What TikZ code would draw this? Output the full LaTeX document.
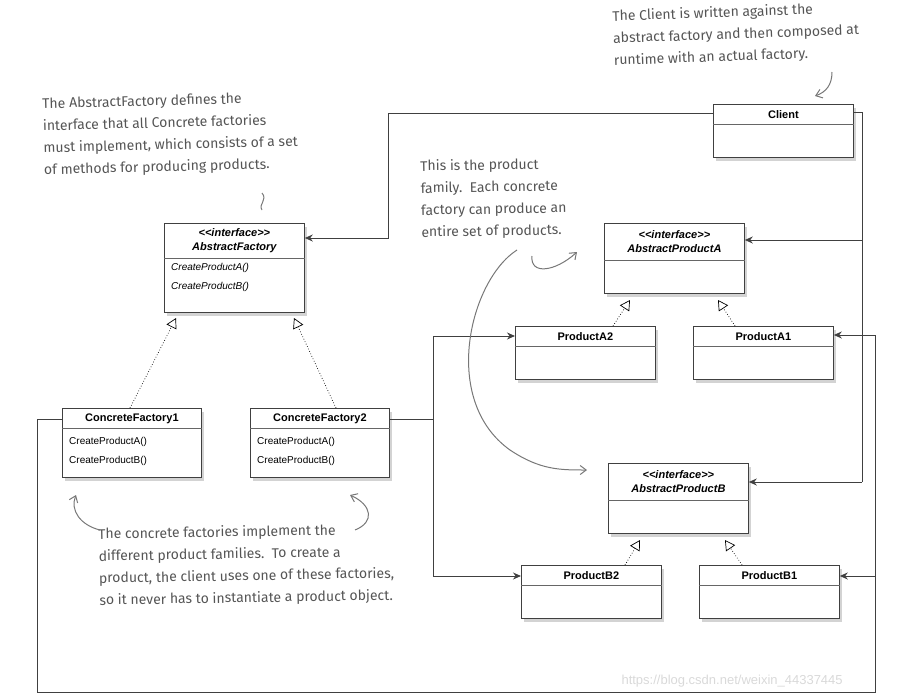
\documentclass[tikz,border=0pt]{standalone}
\usepackage{fontspec}
\setmainfont{Liberation Sans}
\newfontfamily\hand{Fira Sans}
\usetikzlibrary{shadows,arrows.meta}
\definecolor{hc}{RGB}{85,85,85}
\newcommand{\ifc}{<\kern0pt<interface>\kern0pt>}
\begin{document}
\begin{tikzpicture}[x=1pt,y=-1pt,
  cls/.style={draw=black!75,fill=white,line width=0.8pt,drop shadow={shadow xshift=3pt,shadow yshift=-4pt,opacity=0.35},anchor=north west,inner sep=0},
  ttl/.style={font=\fontsize{11}{12}\selectfont\bfseries,align=center},
  ittl/.style={font=\fontsize{11}{14}\selectfont\bfseries\itshape,align=center},
  mth/.style={font=\fontsize{10}{11}\selectfont,anchor=west,inner sep=0},
  con/.style={line width=1pt,draw=black!75},
  arr/.style={con,-{Stealth[length=8pt,width=7pt]}},
  real/.style={dotted,line width=0.7pt,-{Triangle[open,length=10pt,width=11pt,fill=white]}},
  note/.style={font=\hand\fontsize{14}{22}\selectfont,text=hc,align=left,anchor=north west,inner sep=0},
  harr/.style={draw=hc!80,line width=1pt,-{Straight Barb[length=6pt,width=9pt]}}]
\useasboundingbox (0,0) rectangle (898,699);
% classes
\node[cls,minimum width=140,minimum height=53] (client) at (713,104) {};
\draw[black!60] ([yshift=-20pt]client.north west) -- ([yshift=-20pt]client.north east);
\node[ttl] at ([yshift=-11pt]client.north) {Client};

\node[cls,minimum width=140,minimum height=89] (af) at (164,223) {};
\draw[black!60] ([yshift=-35pt]af.north west) -- ([yshift=-35pt]af.north east);
\node[ittl] at ([yshift=-18pt]af.north) {\ifc\\AbstractFactory};
\node[mth,font=\fontsize{10}{11}\selectfont\itshape] at ([xshift=7pt,yshift=-45pt]af.north west) {CreateProductA()};
\node[mth,font=\fontsize{10}{11}\selectfont\itshape] at ([xshift=7pt,yshift=-64pt]af.north west) {CreateProductB()};

\node[cls,minimum width=139,minimum height=69] (cf1) at (62,408) {};
\draw[black!60] ([yshift=-20pt]cf1.north west) -- ([yshift=-20pt]cf1.north east);
\node[ttl] at ([yshift=-11pt]cf1.north) {ConcreteFactory1};
\node[mth] at ([xshift=7pt,yshift=-34pt]cf1.north west) {CreateProductA()};
\node[mth] at ([xshift=7pt,yshift=-53pt]cf1.north west) {CreateProductB()};

\node[cls,minimum width=139,minimum height=69] (cf2) at (250,408) {};
\draw[black!60] ([yshift=-20pt]cf2.north west) -- ([yshift=-20pt]cf2.north east);
\node[ttl] at ([yshift=-11pt]cf2.north) {ConcreteFactory2};
\node[mth] at ([xshift=7pt,yshift=-34pt]cf2.north west) {CreateProductA()};
\node[mth] at ([xshift=7pt,yshift=-53pt]cf2.north west) {CreateProductB()};

\node[cls,minimum width=140,minimum height=70] (apa) at (604,223) {};
\draw[black!60] ([yshift=-37pt]apa.north west) -- ([yshift=-37pt]apa.north east);
\node[ittl] at ([yshift=-19pt]apa.north) {\ifc\\AbstractProductA};

\node[cls,minimum width=140,minimum height=70] (apb) at (608,463) {};
\draw[black!60] ([yshift=-37pt]apb.north west) -- ([yshift=-37pt]apb.north east);
\node[ittl] at ([yshift=-19pt]apb.north) {\ifc\\AbstractProductB};

\foreach \n/\t/\x/\y in {pa2/ProductA2/515/326,pa1/ProductA1/693/326,pb2/ProductB2/521/565,pb1/ProductB1/699/565}{
  \node[cls,minimum width=140,minimum height=53] (\n) at (\x,\y) {};
  \draw[black!60] ([yshift=-20pt]\n.north west) -- ([yshift=-20pt]\n.north east);
  \node[ttl] at ([yshift=-11pt]\n.north) {\t};
}
% associations
\draw[arr] ([yshift=-9pt]client.north west) -| (388,238) -- (af.east |- 0,238);
\coordinate (cr) at (862,112);
\draw[con] ([yshift=-8pt]client.north east) -- (cr) -- (862,482);
\draw[arr] (862,240) -- (apa.east |- 0,240);
\draw[arr] (862,482) -- (apb.east |- 0,482);
\draw[con] ([yshift=-11pt]cf1.north west) -| (37,692) -| (875,335);
\draw[arr] (875,335) -- (pa1.east |- 0,335);
\draw[arr] (875,576) -- (pb1.east |- 0,576);
\draw[con] ([yshift=-11pt]cf2.north east) -- (433,419);
\draw[arr] (433,419) |- (pa2.west |- 0,336);
\draw[arr] (433,419) |- (pb2.west |- 0,576);
% realizations
\draw[real] (130,408) -- (176,318);
\draw[real] (336,408) -- (294,318);
\draw[real] (613,326) -- (630,300);
\draw[real] (735,326) -- (718,300);
\draw[real] (625,565) -- (640,540);
\draw[real] (742,565) -- (725,540);
% notes
\node[note,rotate=2] at (612,10) {The Client is written against the\\abstract factory and then composed at\\runtime with an actual factory.};
\node[note,rotate=1.5] at (42,98) {The AbstractFactory defines the\\interface that all Concrete factories\\must implement, which consists of a set\\of methods for producing products.};
\node[note,rotate=1] at (420,160) {This is the product\\family.\ \ Each concrete\\factory can produce an\\entire set of products.};
\node[note,rotate=1] at (98,528) {The concrete factories implement the\\different product families.\ \ To create a\\product, the client uses one of these factories,\\so it never has to instantiate a product object.};
% hand arrows
\draw[harr] (832,72) .. controls (832,85) and (826,92) .. (815,96);
\draw[draw=hc!80,line width=1pt] (262,193) .. controls (268,200) and (258,204) .. (262,210);
\draw[harr] (532,256) .. controls (530,275) and (555,272) .. (577,252);
\draw[harr] (517,250) .. controls (470,280) and (440,400) .. (510,450) .. controls (540,470) and (560,470) .. (587,470);
\draw[harr] (100,530) .. controls (80,525) and (70,510) .. (76,495);
\draw[harr] (355,530) .. controls (375,522) and (372,505) .. (350,495);
\node[text=black!15,font=\fontsize{13}{13}\selectfont,anchor=west] at (618,681) {https://blog.csdn.net/weixin\_44337445};
\end{tikzpicture}
\end{document}
